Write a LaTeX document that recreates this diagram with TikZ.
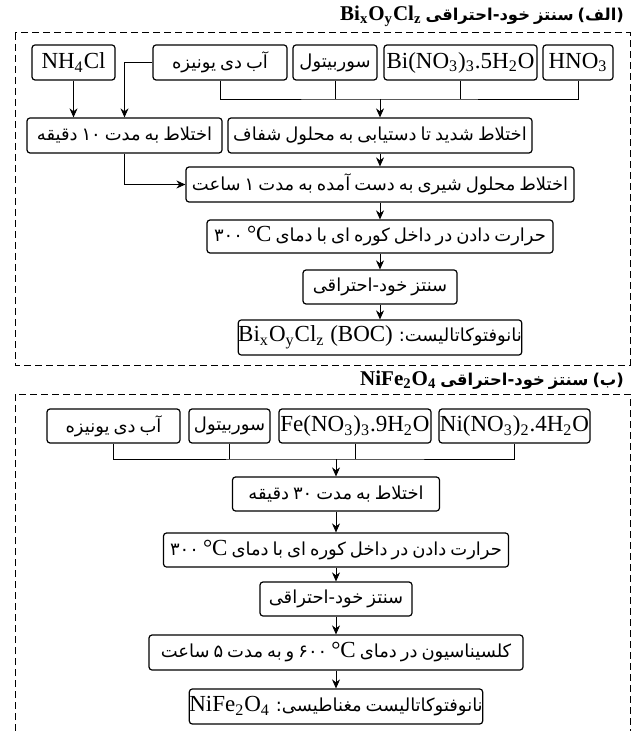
\documentclass[tikz,border=0pt]{standalone}
\usepackage{fontspec}
\setmainfont{Liberation Serif}
\newfontfamily\farsifont[Script=Arabic,Scale=0.78,WordSpace=0.7]{DejaVu Sans}
\TeXXeTstate=1
\usetikzlibrary{arrows.meta}
\newcommand{\fatext}[1]{{\farsifont\beginR #1\endR}}
\newcommand{\lattext}[1]{\beginL{\rmfamily #1}\endL}

\begin{document}
\begin{tikzpicture}[x=0.5pt, y=-0.5pt, font=\fontsize{11.5}{14}\selectfont,
  stage/.style={draw, rounded corners=1.5pt, line width=0.6pt, inner sep=0pt, minimum height=17.5pt},
  arr/.style={-{Stealth[length=4.5pt,width=4pt]}},
  groupbox/.style={dash pattern=on 3.5pt off 2pt, line width=0.5pt},
  heading/.style={anchor=east, font=\fontsize{10.5}{12}\selectfont\bfseries}]
\useasboundingbox (0,0) rectangle (640,731);

% Part A: BiOCl
\node[heading] (titleA) at (631,16) {\fatext{(الف) سنتز خود-احتراقی \lattext{Bi\textsubscript{x}O\textsubscript{y}Cl\textsubscript{z}}}};
\draw[groupbox] (15,33) rectangle (630,365);

\node[stage, minimum width=41.5pt] (nhcl) at (73.5,62.5) {NH\textsubscript{4}Cl};
\node[stage, minimum width=67pt] (waterA) at (220,62.5) {\fatext{آب دی یونیزه}};
\node[stage, minimum width=42pt] (sorbA) at (335,62.5) {\fatext{سوربیتول}};
\node[stage, minimum width=76.5pt] (bino) at (460.5,62.5) {Bi(NO\textsubscript{3})\textsubscript{3}.5H\textsubscript{2}O};
\node[stage, minimum width=35pt] (hno) at (578,62.5) {HNO\textsubscript{3}};

\node[stage, minimum width=97.5pt] (mixten) at (124.5,135.5) {\fatext{اختلاط به مدت ۱۰ دقیقه}};
\node[stage, minimum width=152pt] (mixclear) at (380,135.5) {\fatext{اختلاط شدید تا دستیابی به محلول شفاف}};
\node[stage, minimum width=194pt] (mixmilk) at (380,184.5) {\fatext{اختلاط محلول شیری به دست آمده به مدت ۱ ساعت}};
\node[stage, minimum width=173pt, minimum height=16.5pt] (heatA) at (380,236.5) {\fatext{حرارت دادن در داخل کوره ای با دمای \lattext{°C} ۳۰۰}};
\node[stage, minimum width=77pt, minimum height=17pt] (combA) at (380,287) {\fatext{سنتز خود-احتراقی}};
\node[stage, minimum width=138pt] (boc) at (380,337.5) {\fatext{نانوفتوکاتالیست: \lattext{Bi\textsubscript{x}O\textsubscript{y}Cl\textsubscript{z} (BOC)}}};

% connectors A
\coordinate (jA) at (380,99);
\draw (waterA.south) |- (jA) -| (hno.south);
\draw (sorbA.south) -- (sorbA.south |- jA);
\draw (bino.south) -- (bino.south |- jA);
\draw[arr] (jA) -- (mixclear.north);
\draw[arr] (nhcl.south) -- (nhcl.south |- mixten.north);
\draw[arr] (waterA.west) -| (mixten.north);
\draw[arr] (mixten.south) |- (mixmilk.west);
\draw[arr] (mixclear) -- (mixmilk);
\draw[arr] (mixmilk) -- (heatA);
\draw[arr] (heatA) -- (combA);
\draw[arr] (combA) -- (boc);

% Part B: NiFe2O4
\node[heading] (titleB) at (631,380) {\fatext{(ب) سنتز خود-احتراقی \lattext{NiFe\textsubscript{2}O\textsubscript{4}}}};
\draw[groupbox] (15,731) -- (15,394) -- (630,394) -- (630,731);

\node[stage, minimum width=66.5pt, minimum height=17pt] (waterB) at (113.5,426) {\fatext{آب دی یونیزه}};
\node[stage, minimum width=40.5pt, minimum height=17pt] (sorbB) at (229.5,426) {\fatext{سوربیتول}};
\node[stage, minimum width=76pt, minimum height=17pt] (feno) at (355,426) {Fe(NO\textsubscript{3})\textsubscript{3}.9H\textsubscript{2}O};
\node[stage, minimum width=75.5pt, minimum height=17pt] (nino) at (514.5,426) {Ni(NO\textsubscript{3})\textsubscript{2}.4H\textsubscript{2}O};

\node[stage, minimum width=103.5pt, minimum height=17pt] (mixthirty) at (336,494) {\fatext{اختلاط به مدت ۳۰ دقیقه}};
\node[stage, minimum width=172.5pt, minimum height=17pt] (heatB) at (336,550) {\fatext{حرارت دادن در داخل کوره ای با دمای \lattext{°C} ۳۰۰}};
\node[stage, minimum width=76pt, minimum height=17pt] (combB) at (336,599) {\fatext{سنتز خود-احتراقی}};
\node[stage, minimum width=187pt] (calc) at (336,652.5) {\fatext{کلسیناسیون در دمای \lattext{°C} ۶۰۰ و به مدت ۵ ساعت}};
\node[stage, minimum width=145.5pt] (nife) at (336,706.5) {\fatext{نانوفتوکاتالیست مغناطیسی: \lattext{NiFe\textsubscript{2}O\textsubscript{4}}}};

% connectors B
\coordinate (jB) at (336,459);
\draw (waterB.south) |- (jB) -| (nino.south);
\draw (sorbB.south) -- (sorbB.south |- jB);
\draw (feno.south) -- (feno.south |- jB);
\draw[arr] (jB) -- (mixthirty.north);
\draw[arr] (mixthirty) -- (heatB);
\draw[arr] (heatB) -- (combB);
\draw[arr] (combB) -- (calc);
\draw[arr] (calc) -- (nife);

\end{tikzpicture}
\end{document}
